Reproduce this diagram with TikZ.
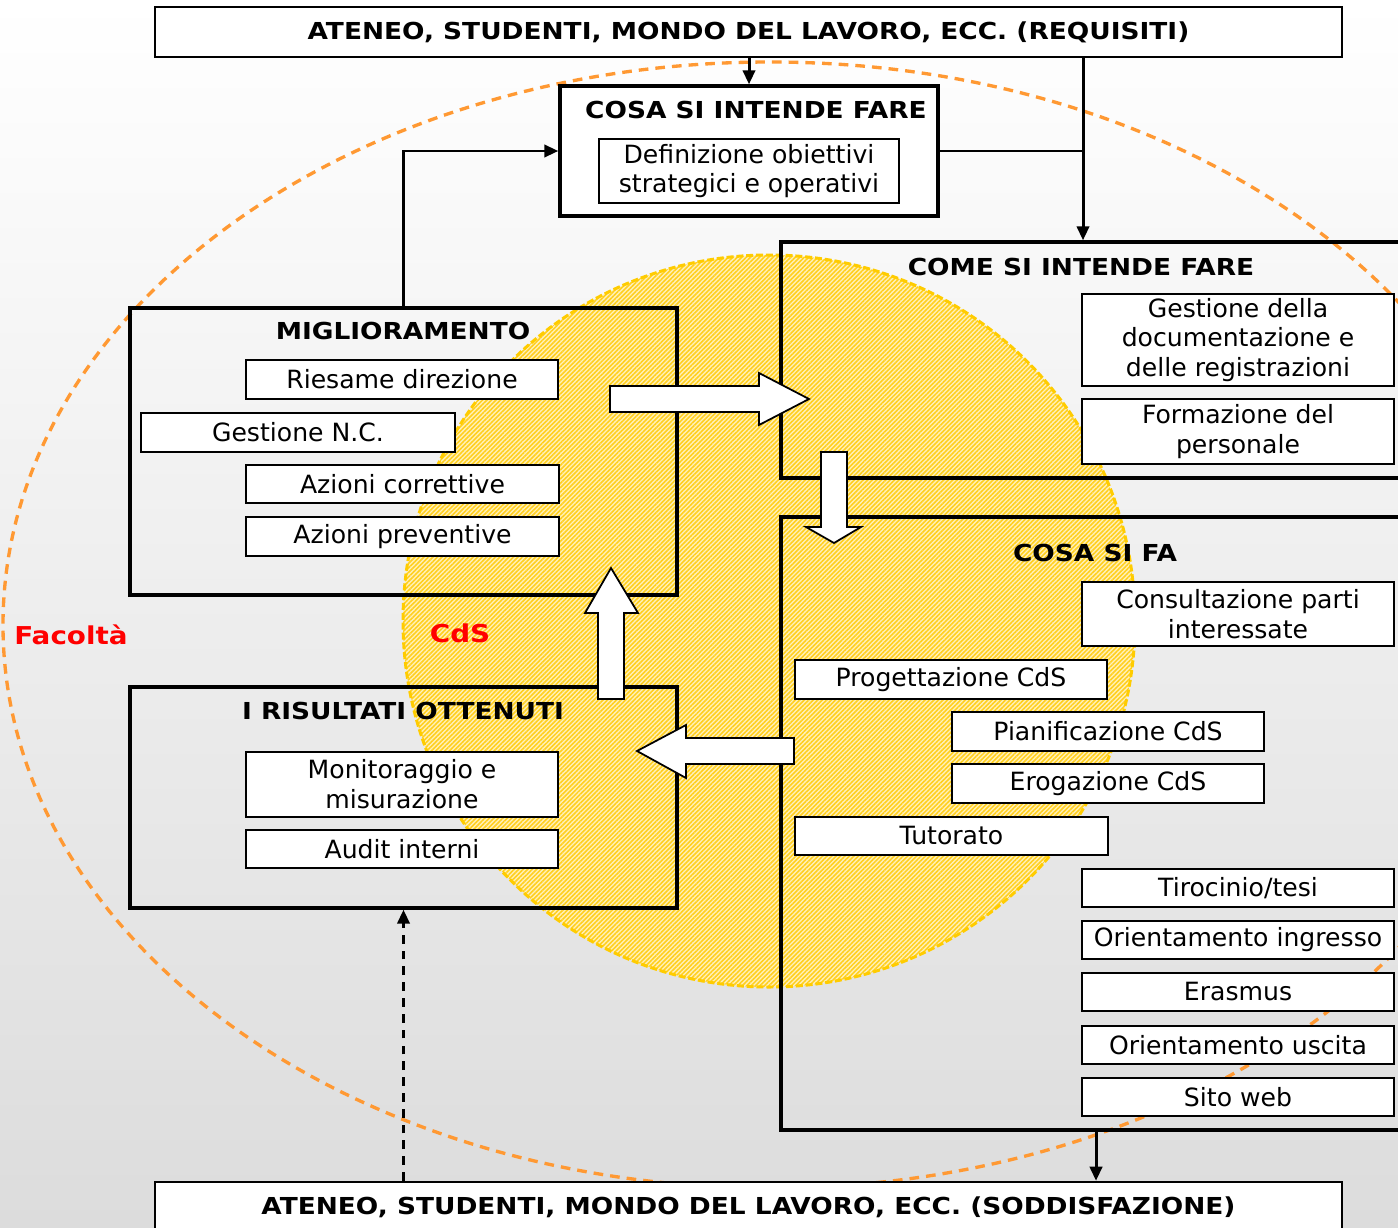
\documentclass[tikz,border=0pt]{standalone}
\usepackage{fontspec}
\setmainfont{DejaVu Sans}[BoldFeatures={FakeStretch=1.13}]
\usetikzlibrary{arrows.meta,patterns.meta}
\definecolor{orng}{HTML}{FF9933}
\definecolor{gold}{HTML}{FFCC00}
\definecolor{hatch}{HTML}{FFCF1F}
\definecolor{pale}{HTML}{FFF1BC}
\definecolor{bgbot}{HTML}{DCDCDC}
\definecolor{redlab}{HTML}{FF0000}

% box from corner (x1,y1) to (x2,y2), in pixel-like units
\newcommand\placebox[7]{%
  \node[#1, minimum width={(#5-#3)*0.02cm}, minimum height={(#6-#4)*0.02cm}]
    (#2) at ({(#3+#5)/2},{(#4+#6)/2}) {#7};}

\begin{document}
\begin{tikzpicture}[x=0.02cm,y=-0.02cm,
  mainbox/.style={draw, line width=1.9pt, inner sep=0pt},
  outerbox/.style={draw, fill=white, line width=1.4pt, inner sep=0pt,
    font=\bfseries\fontsize{13.3}{16}\selectfont},
  item/.style={draw, fill=white, line width=1.1pt, inner sep=0pt, align=center,
    font=\fontsize{14.3}{17}\selectfont},
  head/.style={font=\bfseries\fontsize{13.3}{16}\selectfont, inner sep=0pt},
  redtag/.style={text=redlab, font=\bfseries\fontsize{14}{17}\selectfont, inner sep=0pt},
  arr/.style={line width=1.7pt, -{Triangle[length=8pt,width=7pt]}},
  blockarrow/.style={draw, fill=white, line width=1pt, line join=miter}
]
\useasboundingbox (0,0) rectangle (1398,1227);
\begin{scope}
\clip (0,0) rectangle (1398,1227);

% background
\fill[top color=white, bottom color=bgbot] (0,0) rectangle (1398,1227);

% Facolta boundary
\draw[orng, line width=1.9pt, dash pattern=on 5.5pt off 4pt]
  (770,625) ellipse [x radius=767, y radius=563];

% CdS disc
\fill[pale] (769,621) circle [radius=366];
\fill[pattern={Lines[angle=45,distance=1.8pt,line width=0.9pt]}, pattern color=hatch]
  (769,621) circle [radius=366];
\draw[gold, line width=1.7pt, dash pattern=on 4pt off 1.6pt]
  (769,621) circle [radius=366];

% outer boxes
\placebox{outerbox}{top}{155}{7}{1342}{57}{ATENEO, STUDENTI, MONDO DEL LAVORO, ECC. (REQUISITI)}
\placebox{outerbox}{bot}{155}{1182}{1342}{1232}{ATENEO, STUDENTI, MONDO DEL LAVORO, ECC. (SODDISFAZIONE)}

% main process boxes
\placebox{mainbox, fill=white}{cosa}{560}{86}{938}{216}{}
\placebox{mainbox}{come}{781}{242}{1412}{478}{}
\placebox{mainbox}{fa}{781}{517}{1412}{1130}{}
\placebox{mainbox}{mig}{130}{308}{677}{595}{}
\placebox{mainbox}{ris}{130}{687}{677}{908}{}

% titles
\node[head] (cosaT) at (756,110) {COSA SI INTENDE FARE};
\node[head] (comeT) at (1081,267) {COME SI INTENDE FARE};
\node[head] (faT) at (1095,553) {COSA SI FA};
\node[head] (migT) at (403,331) {MIGLIORAMENTO};
\node[head] (risT) at (403,711) {I RISULTATI OTTENUTI};

% connectors
\coordinate (j) at (1083,151);
\coordinate (k) at (1096,1130);
\draw[arr] (cosa.north |- top.south) -- (cosa.north);
\draw[line width=1.7pt] (cosa.east) -- (j);
\draw[arr] (j |- top.south) -- (j |- come.north);
\draw[arr] (mig.north) |- (cosa.west);
\draw[arr] (k) -- (k |- bot.north);
\draw[arr, dash pattern=on 5pt off 4pt] (ris.south |- bot.north) -- (ris.south);

% items
\placebox{item}{def}{599}{139}{899}{203}{Definizione obiettivi\\strategici e operativi}
\placebox{item}{doc}{1082}{294}{1394}{386}{Gestione della\\documentazione e\\delle registrazioni}
\placebox{item}{form}{1082}{399}{1394}{464}{Formazione del\\personale}
\placebox{item}{ries}{246}{360}{558}{399}{Riesame direzione}
\placebox{item}{gnc}{141}{413}{455}{452}{Gestione N.C.}
\placebox{item}{corr}{246}{465}{559}{503}{Azioni correttive}
\placebox{item}{prev}{246}{517}{559}{556}{Azioni preventive}
\placebox{item}{mon}{246}{752}{558}{817}{Monitoraggio e\\misurazione}
\placebox{item}{aud}{246}{830}{558}{868}{Audit interni}
\placebox{item}{cons}{1082}{582}{1394}{646}{Consultazione parti\\interessate}
\placebox{item}{prog}{795}{660}{1107}{699}{Progettazione CdS}
\placebox{item}{pian}{952}{712}{1264}{751}{Pianificazione CdS}
\placebox{item}{erog}{952}{764}{1264}{803}{Erogazione CdS}
\placebox{item}{tut}{795}{817}{1108}{855}{Tutorato}
\placebox{item}{tir}{1082}{869}{1394}{907}{Tirocinio/tesi}
\placebox{item}{oing}{1082}{921}{1394}{959}{Orientamento ingresso}
\placebox{item}{eras}{1082}{973}{1394}{1011}{Erasmus}
\placebox{item}{ousc}{1082}{1026}{1394}{1064}{Orientamento uscita}
\placebox{item}{web}{1082}{1078}{1394}{1116}{Sito web}

% block arrows of the cycle
\draw[blockarrow] (610,386) -- (759,386) -- (759,373) -- (809,399) -- (759,425)
  -- (759,412) -- (610,412) -- cycle;
\draw[blockarrow] (821,452) -- (847,452) -- (847,527) -- (861,527) -- (834,543)
  -- (806,527) -- (821,527) -- cycle;
\draw[blockarrow] (598,699) -- (598,613) -- (585,613) -- (611,568) -- (638,613)
  -- (624,613) -- (624,699) -- cycle;
\draw[blockarrow] (794,738) -- (686,738) -- (686,725) -- (637,751) -- (686,778)
  -- (686,764) -- (794,764) -- cycle;

% labels
\node[redtag] (fac) at (71,635) {Facoltà};
\node[redtag] (cds) at (460,633) {CdS};
\end{scope}
\end{tikzpicture}
\end{document}
